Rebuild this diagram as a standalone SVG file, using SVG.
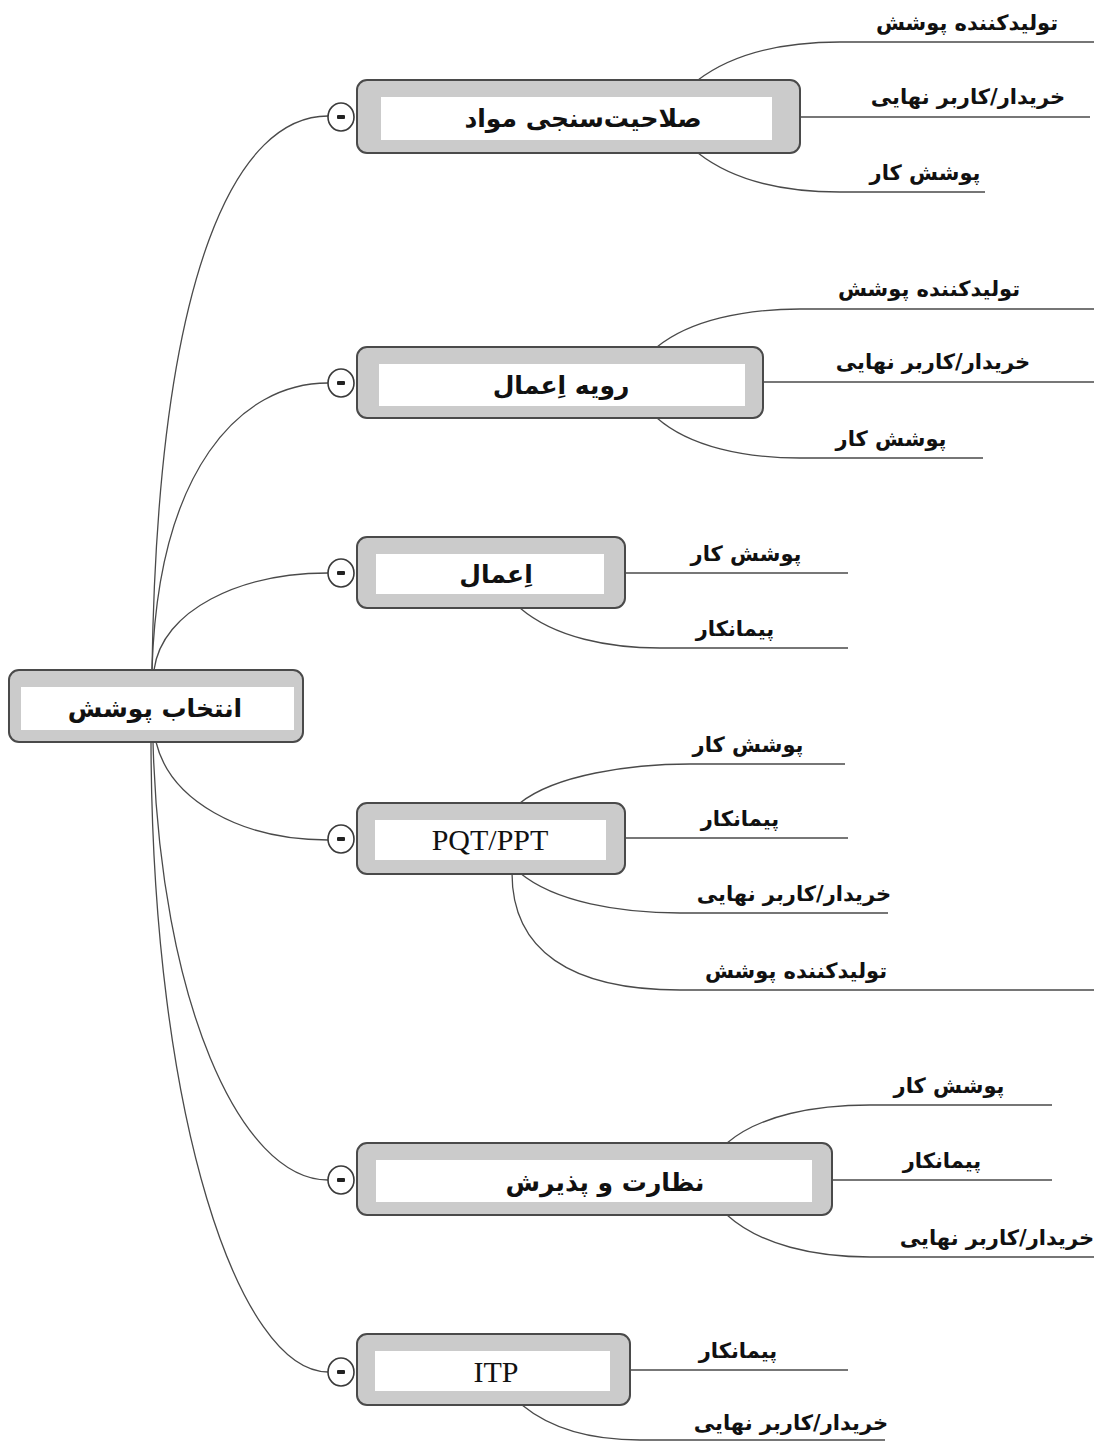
<svg xmlns="http://www.w3.org/2000/svg" width="1094" height="1443" viewBox="0 0 1094 1443">
<style>
.outer{fill:#cbcbcb;stroke:#4a4a4a;stroke-width:2}
.inner{fill:#ffffff}
.btn{fill:#ffffff;stroke:#3a3a3a;stroke-width:1.6}
.dash{fill:#222}
.ln{fill:none;stroke:#4a4a4a;stroke-width:1.3}
.fa{font-family:"DejaVu Sans",sans-serif;font-weight:bold;fill:#111;text-anchor:middle}
.nt{font-size:25px}
.lb{font-size:21px}
.en{font-family:"Liberation Serif",serif;font-size:30px;fill:#111;text-anchor:middle}
</style>
<rect width="1094" height="1443" fill="#ffffff"/>
<g id="connectors">
<path class="ln" d="M152,670 C158,260 240,116 328,116"/>
<path class="ln" d="M152,670 C158,470 240,383 328,383"/>
<path class="ln" d="M154,670 C162,610 240,573 328,573"/>
<path class="ln" d="M156,742 C170,800 240,840 328,840"/>
<path class="ln" d="M153,742 C160,1000 240,1180 328,1180"/>
<path class="ln" d="M151,742 C152,1120 240,1372 328,1372"/>
<path class="ln" d="M698,80 C735,52 785,42 840,42 L1094,42"/>
<path class="ln" d="M800,117 L1090,117"/>
<path class="ln" d="M698,153 C735,182 785,192 840,192 L985,192"/>
<path class="ln" d="M657,347 C690,320 745,309 800,309 L1094,309"/>
<path class="ln" d="M763,382 L1094,382"/>
<path class="ln" d="M657,418 C690,447 745,458 800,458 L983,458"/>
<path class="ln" d="M625,573 L848,573"/>
<path class="ln" d="M520,608 C555,638 610,648 660,648 L848,648"/>
<path class="ln" d="M520,803 C555,775 630,764 690,764 L845,764"/>
<path class="ln" d="M625,838 L848,838"/>
<path class="ln" d="M520,873 C555,902 620,913 680,913 L888,913"/>
<path class="ln" d="M512,873 C512,950 570,990 680,990 L1094,990"/>
<path class="ln" d="M727,1143 C760,1115 815,1105 870,1105 L1052,1105"/>
<path class="ln" d="M832,1180 L1052,1180"/>
<path class="ln" d="M727,1215 C760,1245 815,1257 870,1257 L1094,1257"/>
<path class="ln" d="M630,1370 L848,1370"/>
<path class="ln" d="M522,1405 C550,1428 590,1440 640,1440 L885,1440"/>
</g>
<g id="root">
<rect class="outer" x="9" y="670" width="294" height="72" rx="10"/>
<rect class="inner" x="21" y="687" width="273" height="43"/>
<text class="fa nt" x="155" y="717">انتخاب پوشش</text>
</g>
<g id="b1">
<ellipse class="btn" cx="341" cy="117" rx="13" ry="14"/>
<rect class="dash" x="337" y="115" width="8" height="4" rx="1"/>
<rect class="outer" x="357" y="80" width="443" height="73" rx="10"/>
<rect class="inner" x="381" y="97" width="391" height="43"/>
<text class="fa nt" x="583" y="127">صلاحیت‌سنجی مواد</text>
</g>
<g id="b1c1"><text class="fa lb" x="967" y="30">تولیدکننده پوشش</text></g>
<g id="b1c2"><text class="fa lb" x="968" y="104">خریدار/کاربر نهایی</text></g>
<g id="b1c3"><text class="fa lb" x="925" y="180">پوشش کار</text></g>
<g id="b2">
<ellipse class="btn" cx="341" cy="383" rx="13" ry="14"/>
<rect class="dash" x="337" y="381" width="8" height="4" rx="1"/>
<rect class="outer" x="357" y="347" width="406" height="71" rx="10"/>
<rect class="inner" x="379" y="364" width="366" height="42"/>
<text class="fa nt" x="561" y="394">رویه اِعمال</text>
</g>
<g id="b2c1"><text class="fa lb" x="929" y="296">تولیدکننده پوشش</text></g>
<g id="b2c2"><text class="fa lb" x="933" y="369">خریدار/کاربر نهایی</text></g>
<g id="b2c3"><text class="fa lb" x="891" y="446">پوشش کار</text></g>
<g id="b3">
<ellipse class="btn" cx="341" cy="573" rx="13" ry="14"/>
<rect class="dash" x="337" y="571" width="8" height="4" rx="1"/>
<rect class="outer" x="357" y="537" width="268" height="71" rx="10"/>
<rect class="inner" x="376" y="554" width="228" height="40"/>
<text class="fa nt" x="496" y="583">اِعمال</text>
</g>
<g id="b3c1"><text class="fa lb" x="746" y="561">پوشش کار</text></g>
<g id="b3c2"><text class="fa lb" x="735" y="636">پیمانکار</text></g>
<g id="b4">
<ellipse class="btn" cx="341" cy="839" rx="13" ry="14"/>
<rect class="dash" x="337" y="837" width="8" height="4" rx="1"/>
<rect class="outer" x="357" y="803" width="268" height="71" rx="10"/>
<rect class="inner" x="375" y="820" width="231" height="40"/>
<text class="en" x="490" y="850">PQT/PPT</text>
</g>
<g id="b4c1"><text class="fa lb" x="748" y="752">پوشش کار</text></g>
<g id="b4c2"><text class="fa lb" x="740" y="826">پیمانکار</text></g>
<g id="b4c3"><text class="fa lb" x="794" y="901">خریدار/کاربر نهایی</text></g>
<g id="b4c4"><text class="fa lb" x="796" y="978">تولیدکننده پوشش</text></g>
<g id="b5">
<ellipse class="btn" cx="341" cy="1180" rx="13" ry="14"/>
<rect class="dash" x="337" y="1178" width="8" height="4" rx="1"/>
<rect class="outer" x="357" y="1143" width="475" height="72" rx="10"/>
<rect class="inner" x="376" y="1160" width="436" height="42"/>
<text class="fa nt" x="605" y="1191">نظارت و پذیرش</text>
</g>
<g id="b5c1"><text class="fa lb" x="949" y="1093">پوشش کار</text></g>
<g id="b5c2"><text class="fa lb" x="942" y="1168">پیمانکار</text></g>
<g id="b5c3"><text class="fa lb" x="997" y="1245">خریدار/کاربر نهایی</text></g>
<g id="b6">
<ellipse class="btn" cx="341" cy="1372" rx="13" ry="14"/>
<rect class="dash" x="337" y="1370" width="8" height="4" rx="1"/>
<rect class="outer" x="357" y="1334" width="273" height="71" rx="10"/>
<rect class="inner" x="375" y="1351" width="235" height="40"/>
<text class="en" x="496" y="1382">ITP</text>
</g>
<g id="b6c1"><text class="fa lb" x="738" y="1358">پیمانکار</text></g>
<g id="b6c2"><text class="fa lb" x="791" y="1430">خریدار/کاربر نهایی</text></g>
</svg>
